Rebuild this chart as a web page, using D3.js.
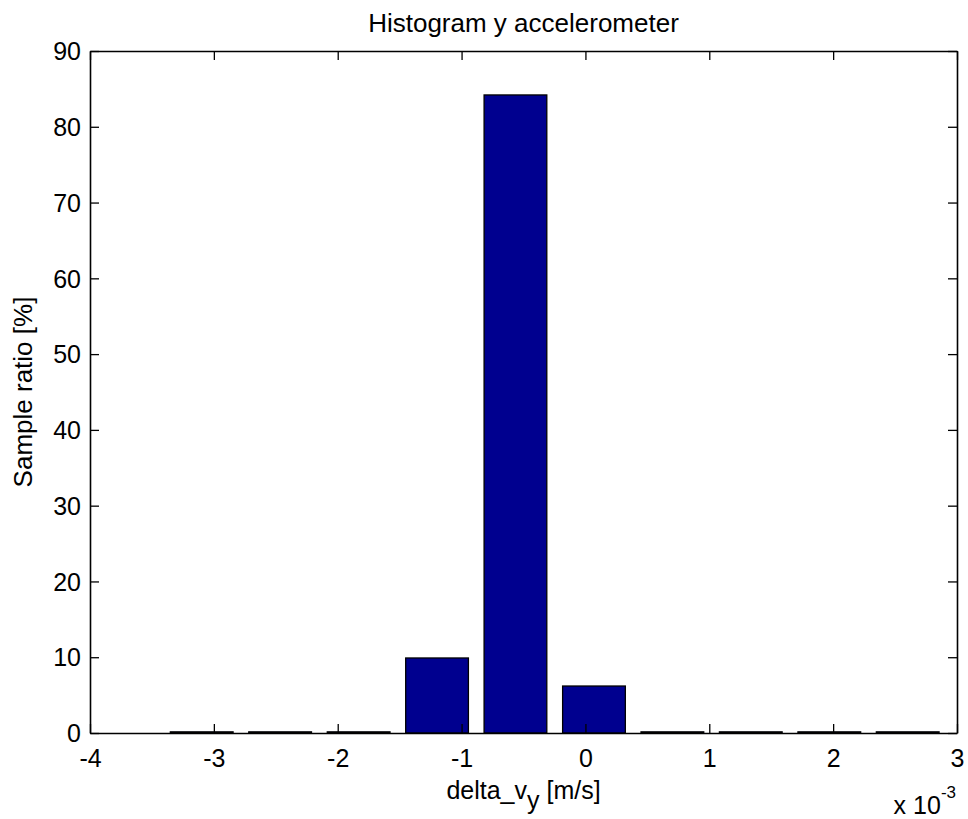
<!DOCTYPE html>
<html>
<head>
<meta charset="utf-8">
<script src="https://cdn.jsdelivr.net/npm/d3@7"></script>
<style>
  html, body { margin: 0; padding: 0; background: #fff; }
  svg text { font-family: "Liberation Sans", Arial, Helvetica, sans-serif; fill: #000; }
</style>
</head>
<body>
<svg id="chart" width="968" height="819"></svg>
<script>
// Histogram bins: centres in units of 1e-3 m/s, sample ratio in percent
const binCenters = [-3.098, -2.465, -1.831, -1.198, -0.565, 0.069, 0.702, 1.335, 1.969, 2.602];
const sampleRatio = [0.15, 0.15, 0.15, 9.9, 84.2, 6.2, 0.15, 0.15, 0.15, 0.15];
const xTicks = [-4, -3, -2, -1, 0, 1, 2, 3];
const yTicks = [0, 10, 20, 30, 40, 50, 60, 70, 80, 90];

const plotL = 90, plotR = 957, plotT = 51, plotB = 733;
const tickFont = 25, labelFont = 25, titleFont = 26;

const svg = d3.select("#chart");

const x = d3.scaleLinear().domain([-4, 3]).range([plotL, plotR]);
const y = d3.scaleLinear().domain([0, 90]).range([plotB, plotT]);

// bars: width is 0.8 of the bin spacing, as in the classic hist/bar plot
const spacing = binCenters[1] - binCenters[0];
const barW = 0.8 * spacing;

svg.append("g")
  .selectAll("rect")
  .data(binCenters.map((c, i) => ({ c, v: sampleRatio[i] })))
  .join("rect")
  .attr("x", d => x(d.c - barW / 2))
  .attr("width", d => x(d.c + barW / 2) - x(d.c - barW / 2))
  .attr("y", d => y(d.v))
  .attr("height", d => y(0) - y(d.v))
  .attr("fill", "#00008F")
  .attr("stroke", "#000")
  .attr("stroke-width", 1.3);

// axes with inward ticks on all four sides
const tickLen = 9;
const fmt = d => String(d);

const gBottom = svg.append("g").attr("transform", `translate(0,${plotB})`)
  .call(d3.axisBottom(x).tickValues(xTicks).tickFormat(fmt).tickSizeInner(-tickLen).tickSizeOuter(0));
gBottom.selectAll("text").attr("y", 0).attr("dy", 0).attr("transform", "translate(0,34)");

const gTop = svg.append("g").attr("transform", `translate(0,${plotT})`)
  .call(d3.axisTop(x).tickValues(xTicks).tickFormat("").tickSizeInner(-tickLen).tickSizeOuter(0));

const gLeft = svg.append("g").attr("transform", `translate(${plotL},0)`)
  .call(d3.axisLeft(y).tickValues(yTicks).tickFormat(fmt).tickSizeInner(-tickLen).tickSizeOuter(0));
gLeft.selectAll("text").attr("x", -9).attr("dy", "0.35em");

const gRight = svg.append("g").attr("transform", `translate(${plotR},0)`)
  .call(d3.axisRight(y).tickValues(yTicks).tickFormat("").tickSizeInner(-tickLen).tickSizeOuter(0));

[gBottom, gTop, gLeft, gRight].forEach(g => {
  g.selectAll("path.domain").attr("stroke", "#000").attr("stroke-width", 1.6);
  g.selectAll(".tick line").attr("stroke", "#000").attr("stroke-width", 1.3);
  g.selectAll("text").attr("font-size", tickFont).attr("font-family", null).attr("fill", "#000");
});

// title
svg.append("text")
  .attr("x", (plotL + plotR) / 2).attr("y", 32)
  .attr("text-anchor", "middle").attr("font-size", titleFont)
  .text("Histogram y accelerometer");

// x label with subscript
const xl = svg.append("text")
  .attr("x", (plotL + plotR) / 2).attr("y", 799)
  .attr("text-anchor", "middle").attr("font-size", labelFont);
xl.append("tspan").text("delta_v");
xl.append("tspan").attr("dy", 10).text("y");
xl.append("tspan").attr("dy", -10).text(" [m/s]");

// y label
svg.append("text")
  .attr("transform", `translate(32,${(plotT + plotB) / 2}) rotate(-90)`)
  .attr("text-anchor", "middle").attr("font-size", titleFont)
  .text("Sample ratio [%]");

// exponent note for the x axis
const ex = svg.append("text")
  .attr("x", 956).attr("y", 814)
  .attr("text-anchor", "end")
  .attr("font-size", labelFont);
ex.append("tspan").text("x 10");
ex.append("tspan").attr("dy", -16).attr("font-size", 17).text("-3");
</script>
</body>
</html>
